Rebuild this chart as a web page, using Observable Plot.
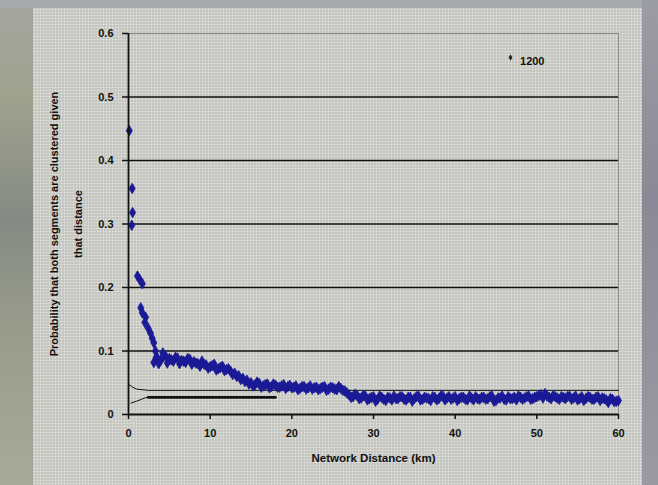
<!DOCTYPE html>
<html>
<head>
<meta charset="utf-8">
<script src="https://cdn.jsdelivr.net/npm/d3@7"></script>
<script src="https://cdn.jsdelivr.net/npm/@observablehq/plot@0.6"></script>
<style>
  html, body { margin: 0; padding: 0; }
  body {
    width: 658px; height: 485px; position: relative; overflow: hidden;
    background: linear-gradient(to bottom, #a4a6a0 0%, #9ea28e 20%, #878a84 45%, #9a9d8c 70%, #a7aa98 100%);
  }
  #rightstrip { position: absolute; left: 642px; top: 0; width: 16px; height: 485px;
    background: linear-gradient(to bottom, #9c9ca4 0%, #8a8a96 40%, #9a9aa2 100%); }
  #topstrip { position: absolute; left: 0; top: 0; width: 658px; height: 8px; background: #a8a9ab; }
  #panel {
    position: absolute; left: 33px; top: 8px; width: 609px; height: 477px;
    background-color: #c6c6c1;
    background-image: radial-gradient(circle, rgba(255,255,255,0.55) 0.7px, transparent 1.1px);
    background-size: 3px 3px;
  }
  #chart { position: absolute; left: 0; top: 0; }
</style>
</head>
<body>
<div id="topstrip"></div>
<div id="rightstrip"></div>
<div id="panel"></div>
<div id="chart"></div>
<script>
// Series "1200": probability vs network distance (km)
const distanceNear = [0.1, 0.45, 0.5, 0.4, 1.1, 1.4, 1.7, 1.5, 1.7, 2.1, 2.0, 2.4, 2.7, 2.9, 3.1, 3.3, 3.1, 3.4, 3.7, 4.2];
const probabilityNear = [0.447, 0.356, 0.318, 0.298, 0.218, 0.212, 0.206, 0.168, 0.160, 0.153, 0.145, 0.136, 0.128, 0.120, 0.113, 0.100, 0.082, 0.090, 0.080, 0.097];

const distanceStart = 3.5, distanceStep = 0.5; // regular sampling of the long tail
const probabilityTail = [
  0.090, 0.086, 0.093, 0.088, 0.084, 0.089, 0.085, 0.082, 0.087, 0.083,
  0.080, 0.084, 0.078, 0.075, 0.079, 0.072, 0.076, 0.071, 0.068, 0.065,
  0.061, 0.057, 0.054, 0.050, 0.047, 0.049, 0.045, 0.048, 0.044, 0.046,
  0.043, 0.047, 0.044, 0.042, 0.045, 0.041, 0.044, 0.042, 0.040, 0.043,
  0.041, 0.044, 0.040, 0.042, 0.039, 0.041, 0.037, 0.031, 0.028, 0.030,
  0.026, 0.029, 0.025, 0.028, 0.024, 0.027, 0.022, 0.026, 0.029, 0.025,
  0.028, 0.023, 0.027, 0.025, 0.029, 0.024, 0.026, 0.022, 0.027, 0.025,
  0.029, 0.026, 0.024, 0.028, 0.025, 0.027, 0.023, 0.026, 0.028, 0.024,
  0.027, 0.025, 0.029, 0.022, 0.026, 0.024, 0.028, 0.025, 0.023, 0.027,
  0.026, 0.029, 0.025, 0.028, 0.031, 0.033, 0.027, 0.030, 0.026, 0.028,
  0.025, 0.029, 0.026, 0.023, 0.028, 0.025, 0.027, 0.024, 0.028, 0.026,
  0.023, 0.025, 0.020, 0.022
];
// offset second sampling of the same band (read between the first samples)
const distanceStart2 = 3.75;
const probabilityTail2 = [
  0.083, 0.091, 0.081, 0.086, 0.090, 0.080, 0.084, 0.088, 0.079, 0.081,
  0.076, 0.079, 0.073, 0.077, 0.070, 0.074, 0.069, 0.072, 0.063, 0.060,
  0.055, 0.052, 0.048, 0.045, 0.051, 0.043, 0.047, 0.042, 0.048, 0.043,
  0.045, 0.041, 0.046, 0.043, 0.039, 0.044, 0.040, 0.045, 0.042, 0.039,
  0.043, 0.038, 0.043, 0.040, 0.044, 0.038, 0.034, 0.027, 0.032, 0.025,
  0.030, 0.023, 0.027, 0.021, 0.029, 0.024, 0.027, 0.023, 0.025, 0.028,
  0.024, 0.027, 0.021, 0.028, 0.023, 0.027, 0.025, 0.028, 0.023, 0.029,
  0.023, 0.028, 0.026, 0.022, 0.027, 0.024, 0.029, 0.023, 0.025, 0.027,
  0.024, 0.028, 0.021, 0.026, 0.029, 0.023, 0.025, 0.027, 0.029, 0.024,
  0.028, 0.024, 0.027, 0.030, 0.026, 0.029, 0.025, 0.028, 0.024, 0.027,
  0.028, 0.024, 0.029, 0.025, 0.022, 0.028, 0.024, 0.027, 0.022, 0.025,
  0.019, 0.024, 0.021
];

// Reference bound lines
const upperX = [0, 0.5, 1.0, 2.5, 60];
const upperY = [0.048, 0.043, 0.040, 0.038, 0.038];
const lowerCurveX = [0.3, 1.0, 2.0, 2.4];
const lowerCurveY = [0.018, 0.021, 0.026, 0.027];
const lowerFlatX = [2.4, 18];
const lowerFlatY = [0.027, 0.027];

const xTicks = [0, 10, 20, 30, 40, 50, 60];
const yTicks = [0, 0.1, 0.2, 0.3, 0.4, 0.5, 0.6];
const gridValues = [0.1, 0.2, 0.3, 0.4, 0.5];
const seriesName = "1200";
const xLabel = "Network Distance (km)";
const yLabel = "Probability that both segments are clustered given\nthat distance";

const points = [
  ...distanceNear.map((d, i) => ({d, p: probabilityNear[i]})),
  ...probabilityTail.map((p, i) => ({d: distanceStart + i * distanceStep, p})),
  ...probabilityTail2.map((p, i) => ({d: distanceStart2 + i * distanceStep, p}))
];
const upper = upperX.map((d, i) => ({d, p: upperY[i]}));
const lowerCurve = lowerCurveX.map((d, i) => ({d, p: lowerCurveY[i]}));
const lowerFlat = lowerFlatX.map((d, i) => ({d, p: lowerFlatY[i]}));

const blue = "#1a1a96";
const font = "Liberation Sans, Arial, sans-serif";

const chart = Plot.plot({
  width: 658, height: 485,
  marginLeft: 128, marginRight: 40, marginTop: 33, marginBottom: 71,
  style: {background: "transparent", fontFamily: font, color: "#111"},
  x: {domain: [0, 60]},
  y: {domain: [0, 0.6]},
  marks: [
    Plot.frame({stroke: "#8a8a8a", strokeWidth: 1}),
    Plot.ruleY(gridValues, {stroke: "#111", strokeWidth: 1.6}),
    Plot.line(upper, {x: "d", y: "p", stroke: "#111", strokeWidth: 1}),
    Plot.line(lowerCurve, {x: "d", y: "p", stroke: "#111", strokeWidth: 1}),
    Plot.line(lowerFlat, {x: "d", y: "p", stroke: "#111", strokeWidth: 2.6}),
    Plot.dot(points, {x: "d", y: "p", symbol: "diamond", r: 3.2, fill: blue, stroke: blue, strokeWidth: 0.8}),
    Plot.ruleX([0], {stroke: "#111", strokeWidth: 1.8}),
    Plot.ruleY([0], {stroke: "#111", strokeWidth: 1.8}),
    Plot.axisY({ticks: yTicks, tickSize: 6, tickPadding: 9, strokeWidth: 1.5,
      tickFormat: d => d === 0 ? "0" : d.toFixed(1), label: null,
      fontSize: 11, fontWeight: "bold"}),
    Plot.axisX({ticks: xTicks, tickSize: 5, tickPadding: 10, strokeWidth: 1.5,
      label: null, fontSize: 11, fontWeight: "bold"}),
    Plot.text([xLabel], {frameAnchor: "bottom", dy: 47, fontSize: 11.5, fontWeight: "bold", fill: "#111"}),
    Plot.text([yLabel], {frameAnchor: "left", rotate: -90, dx: -66, textAnchor: "middle", lineAnchor: "middle",
      fontSize: 11, fontWeight: "bold", lineHeight: 2.2, fill: "#111"}),
    Plot.dot([seriesName], {frameAnchor: "top-right", dx: -108, dy: 24, symbol: "diamond", r: 2, fill: "#222"}),
    Plot.text([seriesName], {frameAnchor: "top-right", dx: -74, dy: 24, textAnchor: "end",
      fontSize: 11, fontWeight: "bold", fill: "#111"})
  ]
});
document.getElementById("chart").append(chart);
</script>
</body>
</html>
